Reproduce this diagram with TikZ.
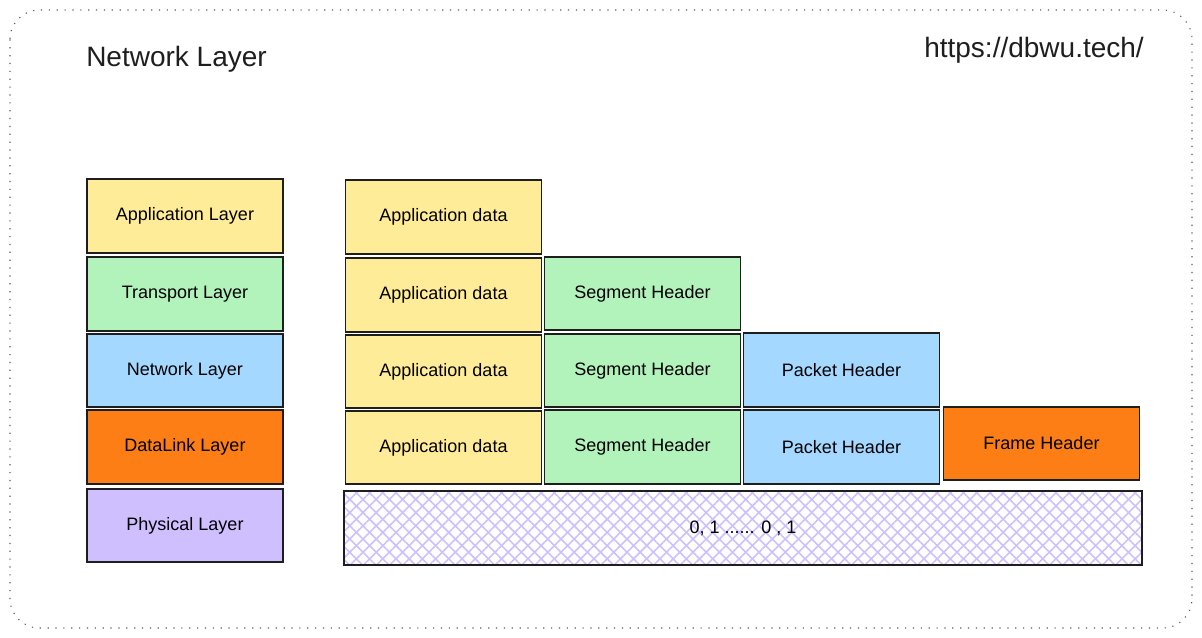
\documentclass[tikz,border=0pt]{standalone}
\usepackage{fontspec}
\setmainfont{Liberation Sans}
\usetikzlibrary{patterns.meta}

\begin{document}
\begin{tikzpicture}[x=0.75pt,y=0.75pt,yscale=-1,xscale=1,
  box/.style={draw={rgb, 255:red, 30; green, 30; blue, 30 }, line width=1.4pt, minimum width=147pt, minimum height=55pt, inner sep=0pt, font=\fontsize{13.5}{16}\selectfont},
  yellowbox/.style={box, fill={rgb, 255:red, 255; green, 236; blue, 153 }},
  greenbox/.style={box, fill={rgb, 255:red, 178; green, 242; blue, 187 }},
  bluebox/.style={box, fill={rgb, 255:red, 165; green, 216; blue, 255 }},
  orangebox/.style={box, fill={rgb, 255:red, 253; green, 126; blue, 20 }},
  purplebox/.style={box, fill={rgb, 255:red, 208; green, 191; blue, 255 }},
  hatchbox/.style={box, minimum width=598pt, pattern color={rgb, 255:red, 208; green, 191; blue, 255 },
    preaction={pattern={Lines[angle=45,distance=7pt,line width=1.2pt]}, pattern color={rgb, 255:red, 208; green, 191; blue, 255 }},
    pattern={Lines[angle=-45,distance=7pt,line width=1.2pt]}},
  title/.style={inner sep=0pt, font=\fontsize{21}{25}\selectfont, text={rgb, 255:red, 30; green, 30; blue, 30 }}
]
\useasboundingbox (0,0) rectangle (1202,638);
% Shape: Rounded frame
\draw [color={rgb, 255:red, 90; green, 90; blue, 90 }, dash pattern={on 0.9pt off 5pt}, line width=0.8pt, rounded corners=22pt] (10,10) rectangle (1192,628);

\node [title, anchor=west] (name) at (86,59) {Network Layer};
\node [title, anchor=east] (url) at (1144,50) {https://dbwu.tech/};

% Layers
\node [yellowbox] (app) at (185,216) {Application Layer};
\node [greenbox] (trans) at (185,294) {Transport Layer};
\node [bluebox] (net) at (185,370.5) {Network Layer};
\node [orangebox] (link) at (185,447) {DataLink Layer};
\node [purplebox] (phy) at (185,525.5) {Physical Layer};

% Application data
\node [yellowbox] (data1) at (443.5,217) {Application data};
\node [yellowbox] (data2) at (443.5,295) {Application data};
\node [yellowbox] (data3) at (443.5,371.5) {Application data};
\node [yellowbox] (data4) at (443.5,447.5) {Application data};

% Segment headers
\node [greenbox] (seg2) at (642.5,293.5) {Segment Header};
\node [greenbox] (seg3) at (642.5,370.5) {Segment Header};
\node [greenbox] (seg4) at (642.5,447) {Segment Header};

% Packet headers
\node [bluebox] (pkt3) at (841.5,370) {Packet Header};
\node [bluebox] (pkt4) at (841.5,447) {Packet Header};

% Frame header
\node [orangebox] (frame) at (1041.5,443.5) {Frame Header};

% Bits
\node [hatchbox] (bits) at (743,528) {0, 1 ...... 0 , 1};

\end{tikzpicture}
\end{document}
